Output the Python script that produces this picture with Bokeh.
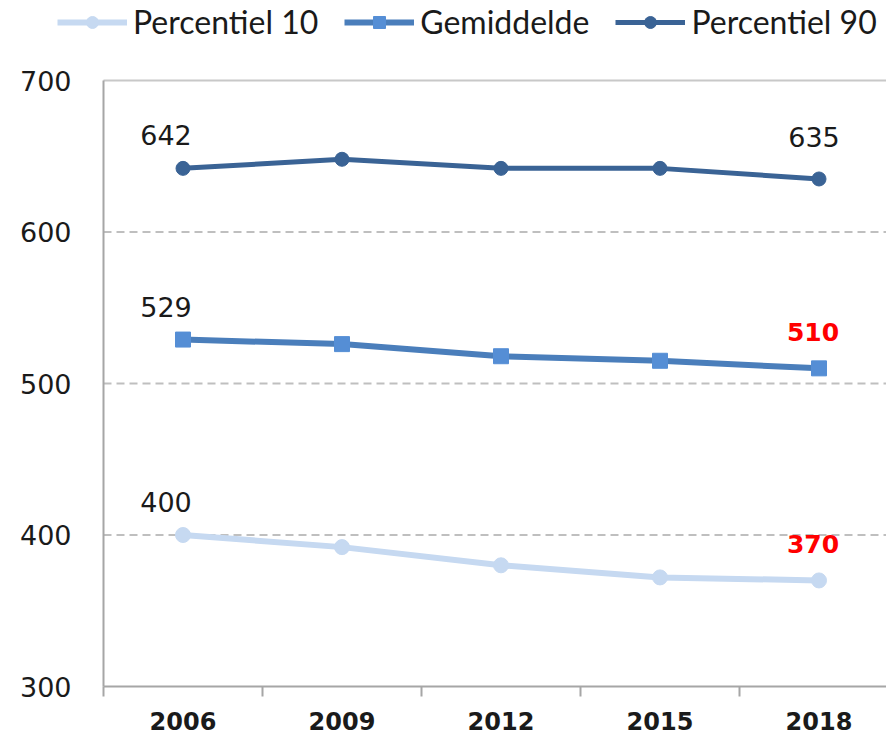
from bokeh.plotting import figure
from bokeh.models import (ColumnDataSource, FixedTicker, Legend, LegendItem,
                          Range1d, LabelSet)
from bokeh.core.properties import value
from bokeh.embed import file_html
from bokeh.resources import INLINE

years = ["2006", "2009", "2012", "2015", "2018"]
p10 = [400, 392, 380, 372, 370]
gemiddelde = [529, 526, 518, 515, 510]
p90 = [642, 648, 642, 642, 635]
y_ticks = [300, 400, 500, 600, 700]
series_names = ["Percentiel 10", "Gemiddelde", "Percentiel 90"]

xs = list(range(len(years)))

C_P10 = "#c6d9f1"
C_MEAN_LINE = "#4a7ebb"
C_MEAN_MARK = "#558ed5"
C_P90 = "#3a6395"
C_AXIS = "#a6a6a6"

W, H = 886, 735
FRAME_LEFT = 103        # pixel where the first category band starts
BAND = 159              # pixels per category
PLOT_TOP = 80           # pixel of y = 700
PLOT_BOTTOM = 686       # pixel of y = 300

px_per_unit = (PLOT_BOTTOM - PLOT_TOP) / (y_ticks[-1] - y_ticks[0])
x_start = -0.5 - FRAME_LEFT / BAND
x_end = x_start + W / BAND
y_end = y_ticks[-1] + PLOT_TOP / px_per_unit
y_start = y_ticks[0] - (H - PLOT_BOTTOM) / px_per_unit

p = figure(width=W, height=H, output_backend="svg", toolbar_location=None,
           x_range=Range1d(x_start, x_end), y_range=Range1d(y_start, y_end),
           min_border_left=0, min_border_top=0, min_border_bottom=0, min_border_right=0)
p.outline_line_color = None
p.background_fill_color = "white"
p.xgrid.visible = False
p.ygrid.visible = False

# gridlines (dashed) and top border (solid), starting at the category axis
grid_src = ColumnDataSource(dict(x0=[-0.5] * 3, x1=[x_end] * 3, y=y_ticks[1:4]))
p.segment(x0="x0", x1="x1", y0="y", y1="y", source=grid_src,
          line_color="#bfbfbf", line_width=2, line_dash="8 5")
top_src = ColumnDataSource(dict(x0=[-0.5], x1=[x_end], y=[y_ticks[-1]]))
p.segment(x0="x0", x1="x1", y0="y", y1="y", source=top_src, line_color="#c8c8c8", line_width=2)

src = ColumnDataSource(dict(x=xs, p10=p10, mean=gemiddelde, p90=p90))

l1 = p.line("x", "p10", source=src, line_color=C_P10, line_width=6)
m1 = p.scatter("x", "p10", source=src, marker="circle", size=15, fill_color=C_P10, line_color=C_P10)
l2 = p.line("x", "mean", source=src, line_color=C_MEAN_LINE, line_width=6)
m2 = p.scatter("x", "mean", source=src, marker="square", size=15, fill_color=C_MEAN_MARK, line_color=C_MEAN_MARK)
l3 = p.line("x", "p90", source=src, line_color=C_P90, line_width=5)
m3 = p.scatter("x", "p90", source=src, marker="circle", size=14, fill_color=C_P90, line_color=C_P90)

first = 0
last = len(years) - 1
lab_first = ColumnDataSource(dict(
    x=[first] * 3, y=[p90[first], gemiddelde[first], p10[first]],
    t=[str(p90[first]), str(gemiddelde[first]), str(p10[first])]))
lab_last_p90 = ColumnDataSource(dict(x=[last], y=[p90[last]], t=[str(p90[last])]))
lab_last_red = ColumnDataSource(dict(
    x=[last, last], y=[gemiddelde[last], p10[last]],
    t=[str(gemiddelde[last]), str(p10[last])]))

p.add_layout(LabelSet(x="x", y="y", text="t", source=lab_first, x_offset=-17, y_offset=23,
                      text_align="center", text_baseline="alphabetic",
                      text_font=value("DejaVu Sans"), text_font_size="27px", text_color="#1a1a1a"))
p.add_layout(LabelSet(x="x", y="y", text="t", source=lab_last_p90, x_offset=-5, y_offset=32,
                      text_align="center", text_baseline="alphabetic",
                      text_font=value("DejaVu Sans"), text_font_size="27px", text_color="#1a1a1a"))
p.add_layout(LabelSet(x="x", y="y", text="t", source=lab_last_red, x_offset=-6, y_offset=27,
                      text_align="center", text_baseline="alphabetic",
                      text_font=value("DejaVu Sans"), text_font_size="25px", text_font_style="bold",
                      text_color="#ff0000"))

# y axis drawn at the left edge of the first category band
p.yaxis.fixed_location = -0.5
p.yaxis.bounds = (y_ticks[0], y_ticks[-1])
p.yaxis.ticker = FixedTicker(ticks=y_ticks)
p.yaxis.axis_line_color = C_AXIS
p.yaxis.axis_line_width = 2
p.yaxis.major_tick_out = 0
p.yaxis.major_tick_in = 0
p.yaxis.minor_tick_out = 0
p.yaxis.minor_tick_in = 0
p.yaxis.major_label_text_font = "DejaVu Sans"
p.yaxis.major_label_text_font_size = "27px"
p.yaxis.major_label_text_color = "#1a1a1a"
p.yaxis.major_label_standoff = 32

# x axis drawn at y = 300
p.xaxis.fixed_location = y_ticks[0]
p.xaxis.bounds = (-0.5, x_end)
p.xaxis.ticker = FixedTicker(ticks=xs, minor_ticks=[i - 0.5 for i in range(len(years) + 1)])
p.xaxis.major_label_overrides = {i: y for i, y in enumerate(years)}
p.xaxis.axis_line_color = C_AXIS
p.xaxis.axis_line_width = 2
p.xaxis.major_tick_out = 0
p.xaxis.major_tick_in = 0
p.xaxis.minor_tick_out = 10
p.xaxis.minor_tick_in = 0
p.xaxis.minor_tick_line_color = C_AXIS
p.xaxis.minor_tick_line_width = 2
p.xaxis.major_label_text_font = "DejaVu Sans"
p.xaxis.major_label_text_font_style = "bold"
p.xaxis.major_label_text_font_size = "24px"
p.xaxis.major_label_text_color = "#1a1a1a"
p.xaxis.major_label_standoff = 15

legend = Legend(items=[
    LegendItem(label=series_names[0], renderers=[l1, m1]),
    LegendItem(label=series_names[1], renderers=[l2, m2]),
    LegendItem(label=series_names[2], renderers=[l3, m3]),
], orientation="horizontal", location=(57, H - 41))
legend.label_text_font = "Lato"
legend.label_text_font_size = "32px"
legend.label_text_color = "#1a1a1a"
legend.glyph_width = 70
legend.glyph_height = 30
legend.label_standoff = 6
legend.spacing = 26
legend.padding = 0
legend.margin = 0
legend.border_line_color = None
legend.background_fill_alpha = 0
p.add_layout(legend)

open("out.html", "w").write(file_html(p, INLINE))
